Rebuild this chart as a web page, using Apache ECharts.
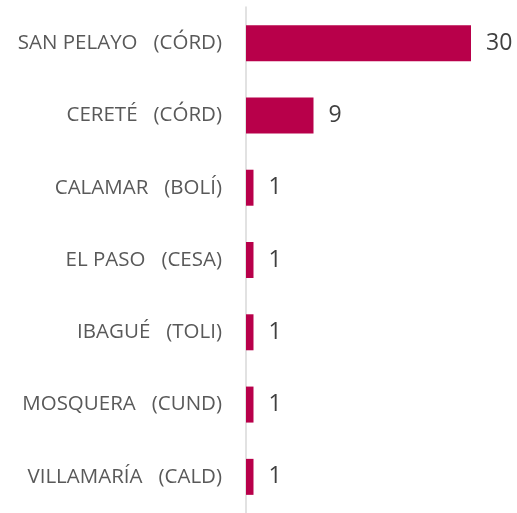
<!DOCTYPE html>
<html>
<head>
<meta charset="utf-8">
<script src="https://cdn.jsdelivr.net/npm/echarts@6/dist/echarts.min.js"></script>
<style>
  html, body { margin: 0; padding: 0; background: #fff; }
  #chart { width: 517px; height: 513px; }
</style>
</head>
<body>
<div id="chart"></div>
<script>
const municipios = [
  'SAN PELAYO   (CÓRD)',
  'CERETÉ   (CÓRD)',
  'CALAMAR   (BOLÍ)',
  'EL PASO   (CESA)',
  'IBAGUÉ   (TOLI)',
  'MOSQUERA   (CUND)',
  'VILLAMARÍA   (CALD)'
]
const casos = [30, 9, 1, 1, 1, 1, 1]

const chart = echarts.init(document.getElementById('chart'))

chart.setOption({
  backgroundColor: '#ffffff',
  animation: false,
  grid: {
    left: 246,
    right: 1,
    top: 7,
    bottom: -2
  },
  xAxis: {
    type: 'value',
    min: 0,
    max: 36,
    show: false
  },
  yAxis: {
    type: 'category',
    inverse: true,
    data: municipios,
    axisLine: { show: true, lineStyle: { color: '#d9d9d9', width: 1.5 } },
    axisTick: { show: false },
    axisLabel: {
      color: '#595959',
      fontFamily: 'Open Sans',
      fontSize: 20.5,
      margin: 24,
      padding: [2, 0, 0, 0]
    }
  },
  series: [
    {
      type: 'bar',
      data: casos,
      barWidth: 36,
      itemStyle: { color: '#b8004a' },
      label: {
        show: true,
        position: 'right',
        distance: 15,
        color: '#404040',
        fontFamily: 'Open Sans',
        fontSize: 23,
        padding: [4, 0, 0, 0]
      }
    }
  ]
})
</script>
</body>
</html>
